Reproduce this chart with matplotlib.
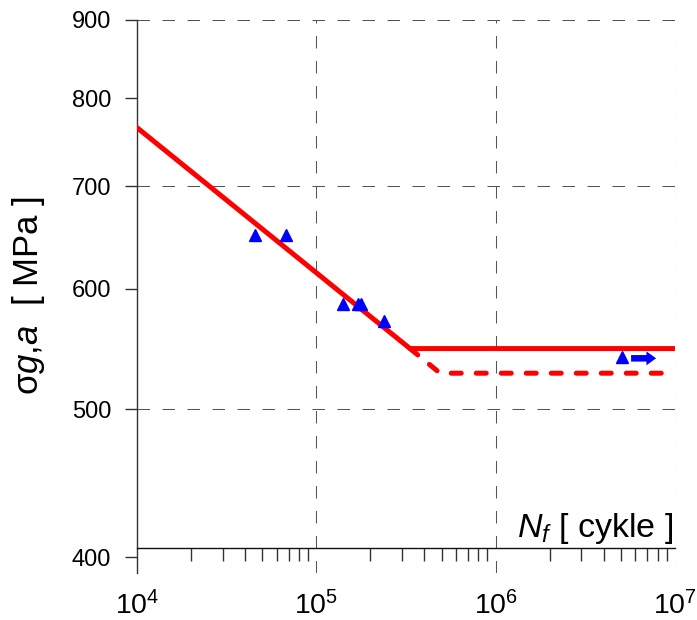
import numpy as np
import matplotlib
matplotlib.use('Agg')
import matplotlib.pyplot as plt
from matplotlib.ticker import FixedLocator, FixedFormatter, LogLocator, NullFormatter, NullLocator

plt.rcParams['font.family'] = ['Liberation Sans', 'DejaVu Sans']
plt.rcParams['mathtext.fontset'] = 'custom'
plt.rcParams['mathtext.rm'] = 'Liberation Sans'
plt.rcParams['mathtext.it'] = 'Liberation Sans:italic'
plt.rcParams['mathtext.bf'] = 'Liberation Sans:bold'

# test points (cycles to failure, stress amplitude)
N_test = [45500, 67800, 141000, 170000, 177000, 239000]
S_test = [651, 651, 586, 586, 586, 571]

# run-out point and its arrow
N_runout = [5.05e6]
S_runout = [541]
arrow_N = [5.69e6, 7.85e6]
arrow_S = [540, 540]

# fitted S-N curve (solid) and lower bound (dashed)
N_fit = [1e4, 3.33e5, 1e7]
S_fit = [765, 548, 548]
N_low = [3.33e5, 4.9e5, 1e7]
S_low = [548, 528, 528]

yticks = [400, 500, 600, 700, 800, 900]
ygrid = [500, 700, 900]
xgrid = [1e5, 1e6, 1e7]

grid_col = '#555555'
axis_col = '#333333'

fig = plt.figure(figsize=(6.97, 6.2), dpi=100)
ax = fig.add_axes([137/697, 1-573/620, 538/697, 553/620])
ax.set_xscale('log')
ax.set_yscale('log')
ax.set_xlim(1e4, 1e7)
ax.set_ylim(390.5, 900)

# grid
for g in ygrid:
    ax.axhline(g, color=grid_col, lw=0.75, dashes=(12, 12), zorder=1)
for g in xgrid:
    ax.axvline(g, color=grid_col, lw=0.75, dashes=(12, 12), zorder=1)

# curves
ax.plot(N_fit, S_fit, color='#ff0000', lw=3.6, solid_capstyle='round',
        solid_joinstyle='round', zorder=3)
ax.plot(N_low, S_low, color='#ff0000', lw=3.6, dashes=(2, 3),
        dash_capstyle='round', zorder=3)

# points
ax.plot(N_test, S_test, ls='none', marker='^', ms=9, color='#0000ff', zorder=4)
ax.plot(N_runout, S_runout, ls='none', marker='^', ms=9, color='#0000ff', zorder=4)
ax.annotate('', xy=(arrow_N[1], arrow_S[1]), xytext=(arrow_N[0], arrow_S[0]),
            arrowprops=dict(arrowstyle='simple,head_length=0.7,head_width=1.0,tail_width=0.47',
                            color='#0000ff', mutation_scale=10, shrinkA=0, shrinkB=0,
                            lw=0), zorder=4)

# spines
ax.spines['top'].set_visible(False)
ax.spines['right'].set_visible(False)
ax.spines['left'].set_color(axis_col)
ax.spines['left'].set_linewidth(1)
ax.spines['bottom'].set_position(('data', 405.5))
ax.spines['bottom'].set_color('#111111')
ax.spines['bottom'].set_linewidth(1)

# y ticks
ax.yaxis.set_major_locator(FixedLocator(yticks))
ax.yaxis.set_major_formatter(FixedFormatter([str(v) for v in yticks]))
ax.yaxis.set_minor_locator(NullLocator())
ax.tick_params(axis='y', which='major', direction='out', length=8.6, width=1,
               color=axis_col, pad=10, labelsize=17)

# x ticks
ax.xaxis.set_major_locator(LogLocator(base=10, numticks=10))
ax.xaxis.set_minor_locator(LogLocator(base=10, subs=np.arange(2, 10), numticks=20))
ax.xaxis.set_minor_formatter(NullFormatter())
ax.tick_params(axis='x', which='major', length=0, pad=31, labelsize=20.5)
ax.tick_params(axis='x', which='minor', direction='out', length=9.4, width=1,
               color=axis_col)

# labels
ax.text(0.9963, 0.0651, r'$N_f$ [ cykle ]', transform=ax.transAxes,
        ha='right', va='baseline', fontsize=24.5)
fig.text(29/697, 1-296/620, 'σ$\\mathit{g{,}a}$  [ MPa ]', rotation=90,
         ha='center', va='center', fontsize=25)

fig.savefig('out.png', dpi=100)
